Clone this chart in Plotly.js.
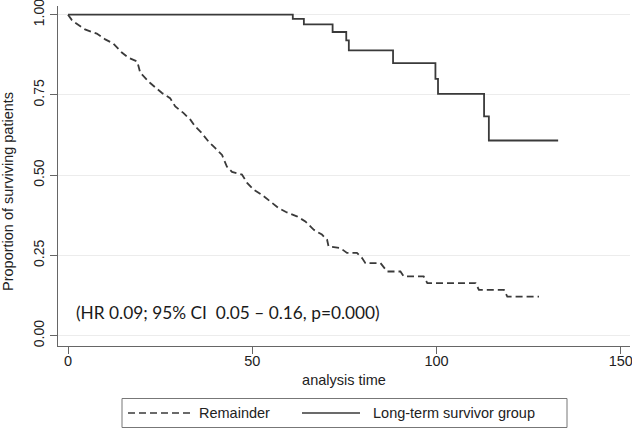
<!DOCTYPE html>
<html>
<head>
<meta charset="utf-8">
<script src="https://cdn.plot.ly/plotly-3.0.1.min.js"></script>
<style>html,body{margin:0;padding:0;background:#fff;}#chart{width:632px;height:429px;}</style>
</head>
<body>
<div id="chart"></div>
<script>
// Remainder group (dashed) — Kaplan–Meier estimates
const remainderTime = [0,1,1.9,4.6,7.8,10.1,12.3,14.6,16.4,18.8,19.6,22.3,25.5,27.7,29.1,31.3,33.2,34.5,36.3,38.1,39.9,41.8,43.1,44.5,47.2,48.6,50.4,52.6,54.9,57.1,59.4,62.1,64.4,66.7,68.9,70.3,70.7,73.9,75.7,78.4,79.8,80.7,84.8,85.7,86.6,90.2,91.1,96.5,97.5,110.6,111.5,118.3,119.2,127.8];
const remainderSurv = [1.0,0.984,0.975,0.954,0.941,0.923,0.910,0.882,0.866,0.854,0.819,0.787,0.756,0.740,0.714,0.694,0.673,0.652,0.631,0.605,0.585,0.563,0.527,0.510,0.502,0.476,0.455,0.439,0.418,0.398,0.384,0.372,0.356,0.330,0.315,0.299,0.278,0.273,0.258,0.258,0.242,0.226,0.226,0.211,0.200,0.200,0.185,0.185,0.164,0.164,0.143,0.143,0.122,0.122];

// Long-term survivor group (solid)
const longTime = [0,61,64,71.8,75.5,76.2,88.2,99.7,100.4,112.9,114.2,133];
const longSurv = [1.0,0.987,0.970,0.946,0.920,0.889,0.849,0.800,0.753,0.683,0.608,0.608];

const seriesNames = ["Remainder", "Long-term survivor group"];
const xTicks = [0, 50, 100, 150];
const yTicks = [0, 0.25, 0.5, 0.75, 1];
const yTickLabels = ["0.00", "0.25", "0.50", "0.75", "1.00"];
const xTitle = "analysis time";
const yTitle = "Proportion of surviving patients";
const hrText = "(HR 0.09; 95% CI  0.05 \u2013 0.16, p=0.000)";

const W = 632, H = 429, ML = 58, MR = 2, MT = 6, MB = 83;
const pw = W - ML - MR, ph = H - MT - MB;
const px = v => (v - ML) / pw;
const py = v => (H - MB - v) / ph;

const lineColor = "#3a3a3a";
const font = {family: "Liberation Sans, Arial, sans-serif", size: 14.5, color: "#222"};
const yTickFont = {family: "Liberation Sans, Arial, sans-serif", size: 14, color: "#222"};

const traces = [
  {x: remainderTime, y: remainderSurv, name: seriesNames[0], mode: "lines",
   line: {color: lineColor, width: 1.8, dash: "7px,4px", shape: "linear"}, showlegend: false, hoverinfo: "x+y"},
  {x: longTime, y: longSurv, name: seriesNames[1], mode: "lines",
   line: {color: lineColor, width: 1.8, shape: "hv"}, showlegend: false, hoverinfo: "x+y"}
];

const layout = {
  width: W, height: H,
  margin: {l: ML, r: MR, t: MT, b: MB, pad: 0},
  paper_bgcolor: "#fff", plot_bgcolor: "#fff",
  font: font,
  xaxis: {
    range: [-2.72, 152.5], tickvals: xTicks, ticktext: xTicks.map(String),
    showgrid: false, zeroline: false, showline: true, linecolor: "#666", linewidth: 1,
    ticks: "outside", ticklen: 7, tickcolor: "#666", tickwidth: 1,
    tickfont: font, fixedrange: true, ticklabelstandoff: -5, ticklabeloverflow: "allow",
    title: {text: xTitle, font: font, standoff: 6}
  },
  yaxis: {
    range: [-0.032, 1.027], tickvals: yTicks, ticktext: yTickLabels, tickangle: -90,
    showgrid: true, gridcolor: "#ececec", gridwidth: 1, zeroline: false,
    showline: true, linecolor: "#666", linewidth: 1,
    ticks: "outside", ticklen: 7, tickcolor: "#666", tickwidth: 1,
    tickfont: yTickFont, fixedrange: true, ticklabeloverflow: "allow"
  },
  shapes: [
    {type: "rect", xref: "paper", yref: "paper", x0: px(122), x1: px(567), y0: py(427.5), y1: py(398.5),
     line: {color: "#777", width: 1}, fillcolor: "rgba(0,0,0,0)"},
    {type: "line", xref: "paper", yref: "paper", x0: px(128), x1: px(190), y0: py(413), y1: py(413),
     line: {color: lineColor, width: 1.5, dash: "7px,4px"}},
    {type: "line", xref: "paper", yref: "paper", x0: px(302), x1: px(360), y0: py(413), y1: py(413),
     line: {color: lineColor, width: 1.5}}
  ],
  annotations: [
    {text: yTitle, xref: "paper", yref: "paper", x: px(8), y: py(192), xanchor: "center", yanchor: "middle",
     textangle: -90, showarrow: false, font: font},
    {text: seriesNames[0], xref: "paper", yref: "paper", x: px(197), y: py(413), xanchor: "left", yanchor: "middle", showarrow: false, font: font},
    {text: seriesNames[1], xref: "paper", yref: "paper", x: px(371), y: py(413), xanchor: "left", yanchor: "middle", showarrow: false, font: font},
    {text: hrText, xref: "paper", yref: "paper", x: px(74), y: py(312), xanchor: "left", yanchor: "middle", showarrow: false,
     font: {family: "Lato, Open Sans, sans-serif", size: 17.3, color: "#1a1a1a"}}
  ]
};

Plotly.newPlot("chart", traces, layout, {displayModeBar: false, staticPlot: true});
</script>
</body>
</html>
